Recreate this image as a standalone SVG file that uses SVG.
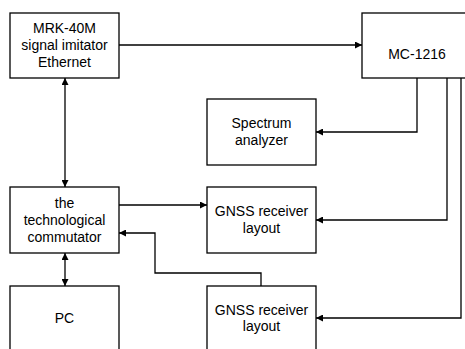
<svg xmlns="http://www.w3.org/2000/svg" width="465" height="349" viewBox="0 0 465 349">
<defs>
<style>
.box{fill:#fff;stroke:#000;stroke-width:1.3}
.t{font-family:"Liberation Sans",Arial,sans-serif;font-size:14px;fill:#000;text-anchor:middle}
.c{fill:none;stroke:#000;stroke-width:1.3}
</style>
<marker id="ah" viewBox="0 0 10 10" refX="10" refY="5" markerWidth="8" markerHeight="7" markerUnits="userSpaceOnUse" orient="auto-start-reverse">
<path d="M0,0 L10,5 L0,10 Z" fill="#000"/>
</marker>
</defs>
<rect width="465" height="349" fill="#fff"/>
<g id="connectors">
<path class="c" d="M119,45 H362" marker-end="url(#ah)"/>
<path class="c" d="M417,78 V132 H316" marker-end="url(#ah)"/>
<path class="c" d="M447,78 V220 H316" marker-end="url(#ah)"/>
<path class="c" d="M461,78 V318 H316" marker-end="url(#ah)"/>
<path class="c" d="M65,78 V187" marker-start="url(#ah)" marker-end="url(#ah)"/>
<path class="c" d="M65,253 V286" marker-start="url(#ah)" marker-end="url(#ah)"/>
<path class="c" d="M119,205 H207" marker-end="url(#ah)"/>
<path class="c" d="M261,286 V273 H155 V233 H119" marker-end="url(#ah)"/>
</g>
<g id="mrk">
<rect class="box" x="10" y="13" width="109" height="65"/>
<text class="t" x="64.5" y="33">MRK-40M</text>
<text class="t" x="64.5" y="50">signal imitator</text>
<text class="t" x="64.5" y="67">Ethernet</text>
</g>
<g id="mc">
<rect class="box" x="362" y="13" width="110" height="65"/>
<text class="t" x="417" y="59">MC-1216</text>
</g>
<g id="spectrum">
<rect class="box" x="207" y="99" width="109" height="66"/>
<text class="t" x="261.5" y="128">Spectrum</text>
<text class="t" x="261.5" y="145">analyzer</text>
</g>
<g id="commutator">
<rect class="box" x="10" y="187" width="109" height="66"/>
<text class="t" x="64.5" y="208">the</text>
<text class="t" x="64.5" y="225">technological</text>
<text class="t" x="64.5" y="242">commutator</text>
</g>
<g id="gnss1">
<rect class="box" x="207" y="187" width="109" height="66"/>
<text class="t" x="261.5" y="216">GNSS receiver</text>
<text class="t" x="261.5" y="233">layout</text>
</g>
<g id="pc">
<rect class="box" x="10" y="286" width="109" height="70"/>
<text class="t" x="64.5" y="323">PC</text>
</g>
<g id="gnss2">
<rect class="box" x="207" y="286" width="109" height="70"/>
<text class="t" x="261.5" y="314.5">GNSS receiver</text>
<text class="t" x="261.5" y="331">layout</text>
</g>
</svg>
